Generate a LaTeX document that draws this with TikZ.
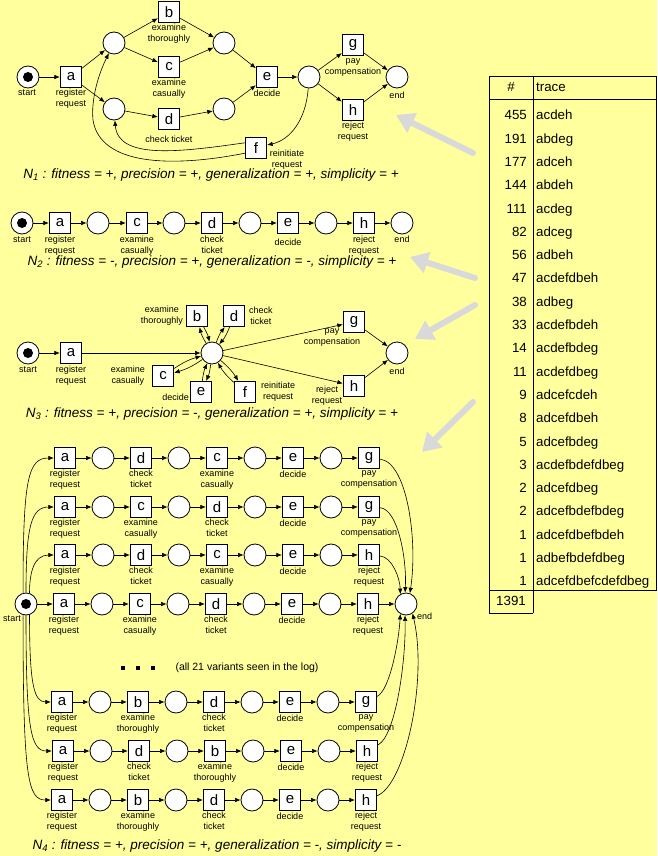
\documentclass[tikz,border=0pt]{standalone}
\usepackage{fontspec}
\setmainfont{Liberation Sans}
\usetikzlibrary{arrows.meta}
\definecolor{bgyellow}{HTML}{FFFF9E}
\definecolor{arrowgray}{HTML}{D9D9D9}
\tikzset{
  place/.style={circle,draw,fill=white,minimum size=22pt,inner sep=0pt,line width=0.8pt},
  tokenplace/.style={place,path picture={\fill[black] (path picture bounding box.center) circle (5pt);}},
  trans/.style={rectangle,draw,fill=white,minimum size=21.5pt,inner sep=0pt,line width=0.8pt,font=\fontsize{15}{15}\selectfont},
  lbl/.style={font=\fontsize{9}{11}\selectfont,align=center,inner sep=0pt},
  arc/.style={-{Latex[length=5.5pt,width=4.5pt]},line width=0.6pt},
  gar/.style={line width=6pt,draw=arrowgray,line cap=round,-{Triangle[length=18pt,width=21pt,fill=arrowgray]}},
  ttl/.style={font=\fontsize{13.5}{14}\selectfont\itshape,inner sep=0pt},
  tbl/.style={font=\fontsize{13.3}{14}\selectfont,inner sep=0pt},
  tline/.style={line width=0.9pt},
  sq/.style={rectangle,fill=black,minimum size=4pt,inner sep=0pt}
}
% #1 row id, #2 y, #3/#4 second letter/label, #5/#6 third letter/label, #7/#8 last letter/label, #9 x offset
\newcommand\nrow[9]{%
  \node[trans] (#1a) at (65+#9,#2) {a};
  \node[place] (#1p1) at (103+#9,#2) {};
  \node[trans] (#1b) at (141+#9,#2) {#3};
  \node[place] (#1p2) at (179+#9,#2) {};
  \node[trans] (#1c) at (217+#9,#2) {#5};
  \node[place] (#1p3) at (255+#9,#2) {};
  \node[trans] (#1d) at (293+#9,#2) {e};
  \node[place] (#1p4) at (331+#9,#2) {};
  \node[trans] (#1e) at (369+#9,#2) {#7};
  \node[lbl,anchor=north] (#1la) at (65+#9,#2+12) {register\\request};
  \node[lbl,anchor=north] (#1lb) at (141+#9,#2+12) {#4};
  \node[lbl,anchor=north] (#1lc) at (217+#9,#2+12) {#6};
  \node[lbl,anchor=north] (#1ld) at (293+#9,#2+13) {decide};
  \node[lbl,anchor=north] (#1le) at (369+#9,#2+12) {#8};
  \draw[arc] (#1a) -- (#1p1);
  \draw[arc] (#1p1) -- (#1b);
  \draw[arc] (#1b) -- (#1p2);
  \draw[arc] (#1p2) -- (#1c);
  \draw[arc] (#1c) -- (#1p3);
  \draw[arc] (#1p3) -- (#1d);
  \draw[arc] (#1d) -- (#1p4);
  \draw[arc] (#1p4) -- (#1e);
}
\begin{document}
\begin{tikzpicture}[x=1pt,y=-1pt]
\fill[bgyellow] (0,0) rectangle (657,856);
\useasboundingbox (0,0) rectangle (657,856);

% ---------- grey arrows ----------
\coordinate (ga1s) at (473,153); \coordinate (ga1e) at (396,115);
\coordinate (ga2s) at (475,278); \coordinate (ga2e) at (410,257);
\coordinate (ga3s) at (475,305); \coordinate (ga3e) at (415,339);
\coordinate (ga4s) at (473,402); \coordinate (ga4e) at (422,452);
\draw[gar] (ga1s) -- (ga1e);
\draw[gar] (ga2s) -- (ga2e);
\draw[gar] (ga3s) -- (ga3e);
\draw[gar] (ga4s) -- (ga4e);

% ---------- N1 ----------
\node[tokenplace] (n1s) at (28,77) {};
\node[trans] (n1a) at (71,77) {a};
\node[place] (n1p1) at (114,43) {};
\node[place] (n1p2) at (114,109) {};
\node[trans] (n1b) at (169,12) {b};
\node[trans] (n1c) at (169,67) {c};
\node[trans] (n1d) at (169,119) {d};
\node[place] (n1p3) at (224,43) {};
\node[place] (n1p4) at (224,109) {};
\node[trans] (n1e) at (267,77) {e};
\node[place] (n1p5) at (309,77) {};
\node[trans] (n1g) at (353,45) {g};
\node[trans] (n1h) at (353,110) {h};
\node[place] (n1end) at (397,77) {};
\node[trans] (n1f) at (256,148) {f};
\node[lbl,anchor=north] (n1ls) at (27,89) {start};
\node[lbl,anchor=north] (n1la) at (71,89) {register\\request};
\node[lbl,anchor=north] (n1lb) at (169,24) {examine\\thoroughly};
\node[lbl,anchor=north] (n1lc) at (169,79) {examine\\casually};
\node[lbl,anchor=north] (n1ld) at (169,135.5) {check ticket};
\node[lbl,anchor=north] (n1le) at (267,90) {decide};
\node[lbl,anchor=north] (n1lg) at (353,58) {pay\\compensation};
\node[lbl,anchor=north] (n1lh) at (353,122) {reject\\request};
\node[lbl,anchor=north] (n1lend) at (397,92) {end};
\node[lbl] (n1lf) at (287,159.5) {reinitiate\\request};
\draw[arc] (n1s) -- (n1a);
\draw[arc] (n1a) -- (n1p1);
\draw[arc] (n1a) -- (n1p2);
\draw[arc] (n1p1) -- (n1b);
\draw[arc] (n1p1) -- (n1c);
\draw[arc] (n1p2) -- (n1d);
\draw[arc] (n1b) -- (n1p3);
\draw[arc] (n1c) -- (n1p3);
\draw[arc] (n1d) -- (n1p4);
\draw[arc] (n1p3) -- (n1e);
\draw[arc] (n1p4) -- (n1e);
\draw[arc] (n1e) -- (n1p5);
\draw[arc] (n1p5) -- (n1g);
\draw[arc] (n1p5) -- (n1h);
\draw[arc] (n1g) -- (n1end);
\draw[arc] (n1h) -- (n1end);
\draw[arc] (n1p5) .. controls (306,120) and (290,140) .. (n1f.15);
\draw[arc] (n1f.155) .. controls (180,152) and (118,160) .. (n1p2);
\draw[arc] (n1f.205) .. controls (170,168) and (100,165) .. (93,120) .. controls (91,100) and (98,75) .. (n1p1);
\node[ttl] (n1t) at (211,175) {N\textsubscript{1} : fitness = +, precision = +, generalization = +, simplicity = +};

% ---------- N2 ----------
\node[tokenplace] (n2s) at (22,223) {};
\node[trans] (n2a) at (60,223) {a};
\node[place] (n2p1) at (98,223) {};
\node[trans] (n2c) at (137,223) {c};
\node[place] (n2p2) at (174,223) {};
\node[trans] (n2d) at (212,223) {d};
\node[place] (n2p3) at (250,223) {};
\node[trans] (n2e) at (288,223) {e};
\node[place] (n2p4) at (326,223) {};
\node[trans] (n2h) at (364,223) {h};
\node[place] (n2end) at (402,223) {};
\node[lbl,anchor=north] (n2ls) at (22,236) {start};
\node[lbl,anchor=north] (n2la) at (60,236) {register\\request};
\node[lbl,anchor=north] (n2lc) at (137,236) {examine\\casually};
\node[lbl,anchor=north] (n2ld) at (212,236) {check\\ticket};
\node[lbl,anchor=north] (n2le) at (288,239) {decide};
\node[lbl,anchor=north] (n2lh) at (364,236) {reject\\request};
\node[lbl,anchor=north] (n2lend) at (402,236) {end};
\draw[arc] (n2s) -- (n2a);
\draw[arc] (n2a) -- (n2p1);
\draw[arc] (n2p1) -- (n2c);
\draw[arc] (n2c) -- (n2p2);
\draw[arc] (n2p2) -- (n2d);
\draw[arc] (n2d) -- (n2p3);
\draw[arc] (n2p3) -- (n2e);
\draw[arc] (n2e) -- (n2p4);
\draw[arc] (n2p4) -- (n2h);
\draw[arc] (n2h) -- (n2end);
\node[ttl] (n2t) at (212,262) {N\textsubscript{2} : fitness = -, precision = +, generalization = -, simplicity = +};

% ---------- N3 ----------
\node[tokenplace] (n3s) at (28,353) {};
\node[trans] (n3a) at (71,353) {a};
\node[place] (n3hub) at (212,353) {};
\node[trans] (n3b) at (197,316) {b};
\node[trans] (n3d) at (234,316) {d};
\node[trans] (n3c) at (163,376) {c};
\node[trans] (n3e) at (201,392) {e};
\node[trans] (n3f) at (245,392) {f};
\node[trans] (n3g) at (354,322) {g};
\node[trans] (n3h) at (354,386) {h};
\node[place] (n3end) at (397,353) {};
\node[lbl,anchor=north] (n3ls) at (28,366) {start};
\node[lbl,anchor=north] (n3la) at (71,366) {register\\request};
\node[lbl,anchor=east] (n3lb) at (183,316) {examine\\thoroughly};
\node[lbl,anchor=west] (n3ld) at (249,316) {check\\ticket};
\node[lbl,anchor=east] (n3lc) at (145,376) {examine\\casually};
\node[lbl,anchor=east] (n3le) at (189,397) {decide};
\node[lbl,anchor=west] (n3lf) at (261,392) {reinitiate\\request};
\node[lbl] (n3lg) at (332,338) {pay\\compensation};
\node[lbl] (n3lh) at (327,396) {reject\\request};
\node[lbl,anchor=north] (n3lend) at (397,368) {end};
\draw[arc] (n3s) -- (n3a);
\draw[arc] (n3a) -- (n3hub);
\draw[arc] (n3hub) -- (n3g);
\draw[arc] (n3hub) -- (n3h);
\draw[arc] (n3g) -- (n3end);
\draw[arc] (n3h) -- (n3end);
\foreach \t in {n3b,n3d,n3c,n3e,n3f}{
  \draw[arc] (\t) to[bend left=9] (n3hub);
  \draw[arc] (n3hub) to[bend left=9] (\t);
}
\node[ttl] (n3t) at (212,414) {N\textsubscript{3} : fitness = +, precision = -, generalization = +, simplicity = +};

% ---------- N4 ----------
\node[tokenplace] (n4s) at (26,604) {};
\node[place] (n4end) at (406,604) {};
\node[lbl] (n4ls) at (12,619) {start};
\node[lbl,anchor=west] (n4lend) at (417,616) {end};
\nrow{r1}{458}{d}{check\\ticket}{c}{examine\\casually}{g}{pay\\compensation}{0}
\nrow{r2}{507}{c}{examine\\casually}{d}{check\\ticket}{g}{pay\\compensation}{0}
\nrow{r3}{555}{d}{check\\ticket}{c}{examine\\casually}{h}{reject\\request}{0}
\nrow{r4}{604}{c}{examine\\casually}{d}{check\\ticket}{h}{reject\\request}{-1}
\nrow{r5}{702}{b}{examine\\thoroughly}{d}{check\\ticket}{g}{pay\\compensation}{-3}
\nrow{r6}{751}{d}{check\\ticket}{b}{examine\\thoroughly}{h}{reject\\request}{-2}
\nrow{r7}{800}{b}{examine\\thoroughly}{d}{check\\ticket}{h}{reject\\request}{-3}
\draw[arc] (n4s.105) .. controls (23,478) and (28,458) .. (r1a);
\draw[arc] (n4s.90) .. controls (26,527) and (31,507) .. (r2a);
\draw[arc] (n4s.72) .. controls (29.5,572) and (34,555) .. (r3a);
\draw[arc] (n4s) -- (r4a);
\draw[arc] (n4s.-72) .. controls (29.5,685) and (34,702) .. (r5a);
\draw[arc] (n4s.-90) .. controls (26,731) and (31,751) .. (r6a);
\draw[arc] (n4s.-105) .. controls (23,780) and (28,800) .. (r7a);
\draw[arc] (r1e) .. controls (407,462) and (418,540) .. (n4end.70);
\draw[arc] (r2e) .. controls (398,509) and (407,560) .. (n4end.95);
\draw[arc] (r3e) .. controls (392,557) and (400,578) .. (n4end.120);
\draw[arc] (r4e) -- (n4end);
\draw[arc] (r5e) .. controls (390,690) and (399,640) .. (n4end.-120);
\draw[arc] (r6e) .. controls (396,735) and (406,660) .. (n4end.-95);
\draw[arc] (r7e) .. controls (405,785) and (428,680) .. (n4end.-55);
\node[sq] (dot1) at (123,668) {};
\node[sq] (dot2) at (138,668) {};
\node[sq] (dot3) at (153,668) {};
\node[font=\fontsize{10.5}{12}\selectfont,inner sep=0pt] (variants) at (247,668) {(all 21 variants seen in the log)};
\node[ttl] (n4t) at (217,846) {N\textsubscript{4} : fitness = +, precision = +, generalization = -, simplicity = -};

% ---------- table ----------
\draw[tline] (489,76) rectangle (656,590);
\draw[tline] (489,99) -- (656,99);
\draw[tline] (533,76) -- (533,613);
\draw[tline] (489,590) -- (489,613) -- (533,613);
\node[tbl,anchor=base] (hnum) at (511,92) {\#};
\node[tbl,anchor=base west] (htrace) at (536,92) {trace};
\foreach \n/\t [count=\i from 0] in {455/acdeh,191/abdeg,177/adceh,144/abdeh,111/acdeg,82/adceg,56/adbeh,47/acdefdbeh,38/adbeg,33/acdefbdeh,14/acdefbdeg,11/acdefdbeg,9/adcefcdeh,8/adcefdbeh,5/adcefbdeg,3/acdefbdefdbeg,2/adcefdbeg,2/adcefbdefbdeg,1/adcefdbefbdeh,1/adbefbdefdbeg,1/adcefdbefcdefdbeg}{
  \node[tbl,anchor=base east] (num\i) at (527,{119.8+23.3*\i}) {\n};
  \node[tbl,anchor=base west] (tr\i) at (536,{119.8+23.3*\i}) {\t};
}
\node[tbl,anchor=base] (total) at (511,605) {1391};
\end{tikzpicture}
\end{document}
